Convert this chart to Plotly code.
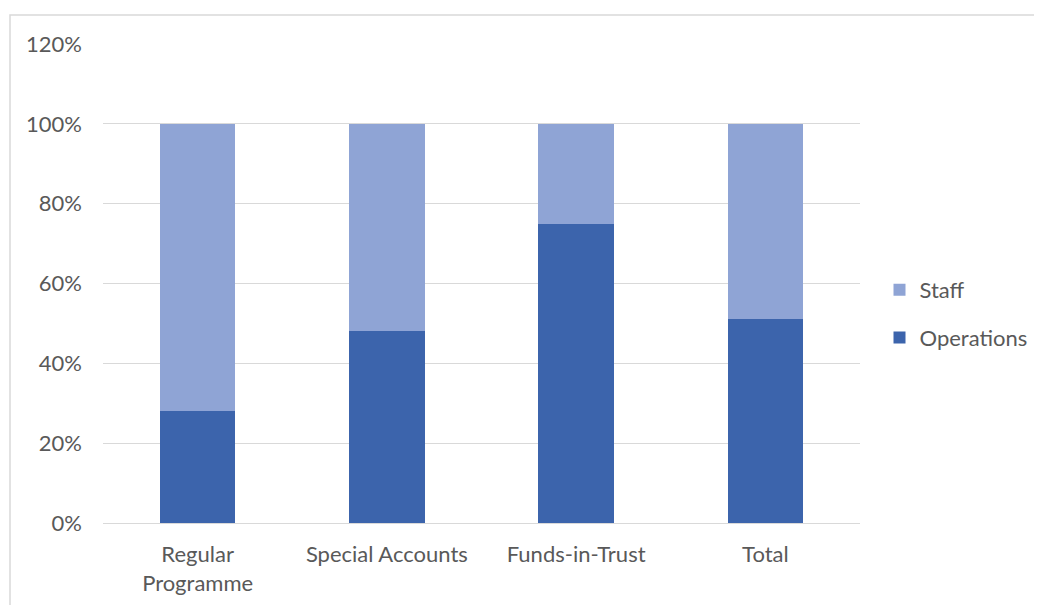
import plotly.graph_objects as go

categories = ["Regular<br>Programme", "Special Accounts", "Funds-in-Trust", "Total"]
operations = [0.28, 0.48, 0.75, 0.51]
staff = [0.72, 0.52, 0.25, 0.49]
y_ticks = [0, 0.2, 0.4, 0.6, 0.8, 1.0, 1.2]

# page body has an 8px margin; figure sized to fill the window
W, H = 1034, 597
L, T = 95, 36
R = W - 852
B = H - 515
pw, ph = W - L - R, H - T - B

fig = go.Figure()
fig.add_trace(go.Bar(name="Operations", x=categories, y=operations,
                     marker=dict(color="#3C64AC", line=dict(width=0)),
                     legendgroup="o", legendrank=2))
fig.add_trace(go.Bar(name="Staff", x=categories, y=staff,
                     marker=dict(color="#8FA4D5", line=dict(width=0)),
                     legendgroup="s", legendrank=1))

font = dict(family="Lato, Carlito, Calibri, sans-serif", size=22, color="#595959")

fig.update_layout(
    width=W, height=H,
    barmode="stack", bargap=0.6,
    margin=dict(l=L, r=R, t=T, b=B, autoexpand=False),
    paper_bgcolor="white", plot_bgcolor="white",
    font=font,
    yaxis=dict(range=[0, 1.2], tickvals=y_ticks, tickformat=".0%",
               showgrid=True, gridcolor="#D9D9D9", gridwidth=1,
               zeroline=False, showline=False, ticks="", ticklabelstandoff=20),
    xaxis=dict(showline=True, linecolor="#D9D9D9", linewidth=1, ticks="",
               showgrid=False, ticklabelstandoff=12),
    legend=dict(x=(871.5 - L) / pw, y=1 - (306 - T) / ph, xanchor="left", yanchor="middle",
                traceorder="grouped", tracegroupgap=16,
                itemwidth=30, font=font),
    shapes=[dict(type="rect", xref="paper", yref="paper",
                 x0=(2 - L) / pw, x1=(W + 5 - L) / pw,
                 y0=(T + ph - (H + 5)) / ph, y1=1 + (T - 7) / ph,
                 line=dict(color="#D9D9D9", width=1.5), fillcolor="rgba(0,0,0,0)",
                 layer="below")],
)

fig.write_html("out.html")
